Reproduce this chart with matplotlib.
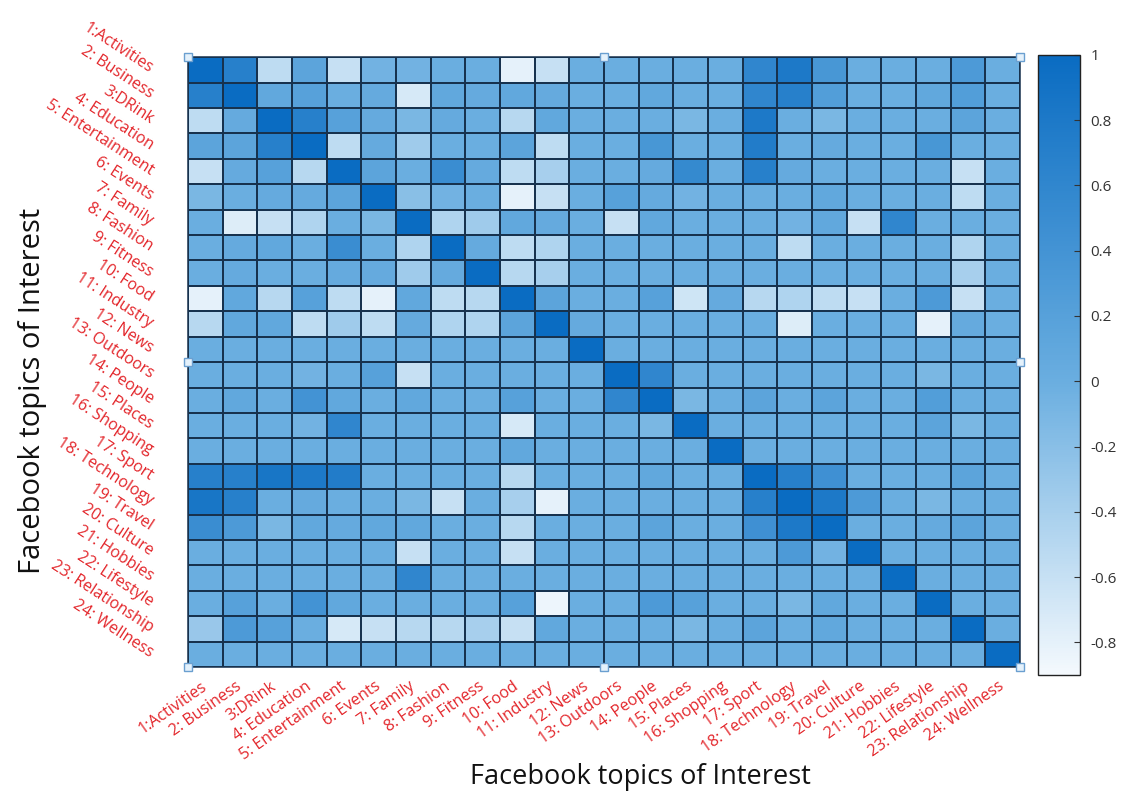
import matplotlib
matplotlib.use("Agg")
import matplotlib.pyplot as plt
import numpy as np
from matplotlib.colors import LinearSegmentedColormap

# topic labels (rows and columns)
topics = ["1:Activities", "2: Business", "3:DRink", "4: Education", "5: Entertainment",
          "6: Events", "7: Family", "8: Fashion", "9: Fitness", "10: Food", "11: Industry",
          "12: News", "13: Outdoors", "14: People", "15: Places", "16: Shopping", "17: Sport",
          "18: Technology", "19: Travel", "20: Culture", "21: Hobbies", "22: Lifestyle",
          "23: Relationship", "24: Wellness"]

# correlation values (row i, column j)
corr = [
    [1, 0.7, -0.55, 0.15, -0.6, -0.05, -0.05, 0, 0, -0.8, -0.6, 0, 0, 0, 0, 0, 0.6, 0.8, 0.35, 0, 0, 0, 0.3, 0],
    [0.7, 1, 0.1, 0.2, 0, 0.05, -0.7, 0.1, 0.05, 0.1, 0.05, 0, 0, 0.1, 0, 0, 0.6, 0.7, 0.25, 0, 0, 0.1, 0.25, 0],
    [-0.55, 0.05, 1, 0.7, 0.2, 0.05, -0.1, 0.05, 0, -0.5, 0.1, 0, 0, 0, -0.1, 0, 0.8, 0, -0.1, 0, 0, 0, 0.15, 0],
    [0.15, 0.15, 0.7, 1, -0.55, 0.05, -0.35, 0, 0, 0.15, -0.55, 0, 0, 0.35, 0, 0, 0.75, 0, 0.05, 0, 0, 0.35, 0, 0],
    [-0.6, 0.05, 0.2, -0.5, 1, 0.15, 0, 0.5, 0.05, -0.55, -0.4, 0, 0, 0.05, 0.55, 0, 0.7, 0.05, 0, 0, 0, 0, -0.6, 0],
    [-0.1, 0, 0.05, 0.05, 0.15, 1, -0.2, -0.05, 0, -0.8, -0.6, 0, 0.2, 0.05, -0.05, 0, 0, 0, 0.1, 0, 0, 0, -0.55, 0],
    [0, -0.75, -0.6, -0.45, 0, -0.1, 1, -0.45, -0.35, 0.1, 0.05, 0, -0.6, 0.1, 0, 0, 0, -0.05, 0.1, -0.6, 0.6, 0, 0, 0],
    [0, 0.05, 0.1, 0, 0.5, 0, -0.45, 1, 0.05, -0.55, -0.45, 0, 0, 0, 0, 0, 0, -0.55, 0, 0, 0, 0, -0.45, 0],
    [0, 0.05, 0, 0, 0.05, 0.05, -0.35, 0.05, 1, -0.5, -0.4, 0, 0, 0, 0, 0, 0, 0, 0, 0, 0, 0, -0.4, 0],
    [-0.8, 0.1, -0.5, 0.2, -0.55, -0.8, 0.1, -0.55, -0.5, 1, 0.15, 0, 0, 0.2, -0.65, 0.05, -0.5, -0.45, -0.55, -0.6, 0, 0.3, -0.6, 0],
    [-0.5, 0.1, 0.1, -0.55, -0.35, -0.55, 0.05, -0.45, -0.45, 0.15, 1, 0.05, 0, 0, 0, 0, 0, -0.75, 0, 0, 0, -0.8, 0.05, 0],
    [0, 0, 0, 0, 0, 0, 0, 0, 0, 0, 0, 1, 0, 0, 0, 0, 0, 0, 0, 0, 0, 0, 0, 0],
    [0, 0, 0, -0.05, 0, 0.2, -0.6, 0, 0, 0, 0, 0, 1, 0.6, 0, 0, 0, 0, 0, 0, 0, -0.1, 0, 0],
    [0, 0.1, 0, 0.4, 0.1, 0, 0.1, 0, 0, 0.2, 0, 0, 0.6, 1, -0.1, 0, 0.15, 0, 0.15, 0, 0, 0.25, 0, 0],
    [0, 0, 0, -0.05, 0.6, 0, 0, 0, 0, -0.7, 0, 0, 0, -0.1, 1, 0, 0, 0, 0, 0, 0, 0.15, -0.1, 0],
    [0, 0, 0, 0, 0, 0, 0, 0, 0, 0.1, 0, 0, 0, 0, 0, 1, 0, 0, 0, 0, 0, 0, 0, 0],
    [0.7, 0.7, 0.85, 0.8, 0.75, 0, 0, 0, 0, -0.5, 0, 0, 0, 0.1, 0, 0, 1, 0.7, 0.45, 0, 0, 0, 0.15, 0],
    [0.85, 0.7, 0, 0.05, 0, 0, -0.1, -0.6, 0, -0.4, -0.8, 0, 0, 0, 0, 0, 0.7, 1, 0.8, 0.3, 0, -0.1, 0, 0],
    [0.5, 0.3, -0.1, 0.1, 0.05, 0.1, 0.1, 0, 0, -0.5, 0, 0, 0, 0.15, 0, 0, 0.45, 0.8, 1, 0, 0, 0.05, 0.15, 0],
    [0, 0, 0, 0, 0, 0, -0.6, 0, 0, -0.6, 0, 0, 0, 0, 0, 0, 0, 0.3, -0.05, 1, 0, 0, 0, 0],
    [0, 0, 0, 0, 0, 0, 0.6, 0, 0, 0, 0, 0, 0, 0, 0, 0, 0, 0, 0, 0, 1, 0, 0, 0],
    [0, 0.2, 0, 0.4, 0.1, 0, 0, 0, 0, 0.2, -0.85, 0, 0, 0.3, 0.2, 0, 0, -0.1, 0.1, 0, 0, 1, 0, 0],
    [-0.3, 0.3, 0.2, 0, -0.7, -0.6, -0.5, -0.5, -0.4, -0.6, 0.1, 0, 0, 0, -0.1, 0, 0.15, 0, 0.1, 0, 0, 0, 1, 0],
    [0, 0, 0, 0, 0, 0, 0, 0, 0, 0, 0, 0, 0, 0, 0, 0, 0, 0, 0, 0, 0, 0, 0, 1],
]
cbar_ticks = [-0.8, -0.6, -0.4, -0.2, 0, 0.2, 0.4, 0.6, 0.8, 1]

plt.rcParams['font.family'] = ['Open Sans', 'DejaVu Sans']

cmap = LinearSegmentedColormap.from_list(
    "fb_blues", [(0.0, "#f4f9fd"), (0.9 / 1.9, "#6aaee0"), (1.0, "#0a6cc2")])

fig = plt.figure(figsize=(11.29, 7.92), dpi=100)
ax = fig.add_axes([0.1665, 0.1578, 0.737, 0.770])

data = np.array(corr)
n = len(topics)
mesh = ax.pcolormesh(np.arange(n + 1), np.arange(n + 1), data, cmap=cmap,
                     vmin=-0.9, vmax=1.0, edgecolors="#17324e", linewidth=1.1)
ax.set_xlim(0, n)
ax.set_ylim(n, 0)

ax.set_xticks(np.arange(n) + 0.5)
ax.set_yticks(np.arange(n) + 0.5)
ax.set_xticklabels(topics, rotation=35, ha="right", va="center",
                   rotation_mode="anchor", color="#e3262b", fontsize=11.5)
ax.set_yticklabels(topics, rotation=-33, ha="right", va="center",
                   rotation_mode="anchor", color="#e3262b", fontsize=11.5)
ax.tick_params(axis="both", length=0)
ax.tick_params(axis="x", pad=13)
ax.tick_params(axis="y", pad=26)
for s in ax.spines.values():
    s.set_color("#17324e")
    s.set_linewidth(1.1)

fig.text(640 / 1129, 1 - 777 / 792, "Facebook topics of Interest", fontsize=19.5,
         ha="center", va="center", color="#111111")
fig.text(33 / 1129, 1 - 391 / 792, "Facebook topics of Interest", fontsize=21,
         ha="center", va="center", rotation=90, color="#111111")

# selection handles around the picture
hx = [0, 0.5, 1, 1, 1, 0.5, 0, 0]
hy = [1, 1, 1, 0.5, 0, 0, 0, 0.5]
ax.plot(hx, hy, ls="none", marker="s", ms=6, mfc="#e4f1fb", mec="#6a9fd0",
        mew=1, transform=ax.transAxes, clip_on=False, zorder=5)

# colour bar
cax = fig.add_axes([0.919, 0.1477, 0.0372, 0.783])
cb = fig.colorbar(mesh, cax=cax, ticks=cbar_ticks)
cb.ax.set_yticklabels(["%g" % t for t in cbar_ticks])
cb.ax.tick_params(direction="in", length=4, width=0.8, labelsize=11,
                  labelcolor="#333333", color="#333333", pad=8)
cb.outline.set_edgecolor("#222222")
cb.outline.set_linewidth(1)

fig.savefig("out.png", dpi=100)
